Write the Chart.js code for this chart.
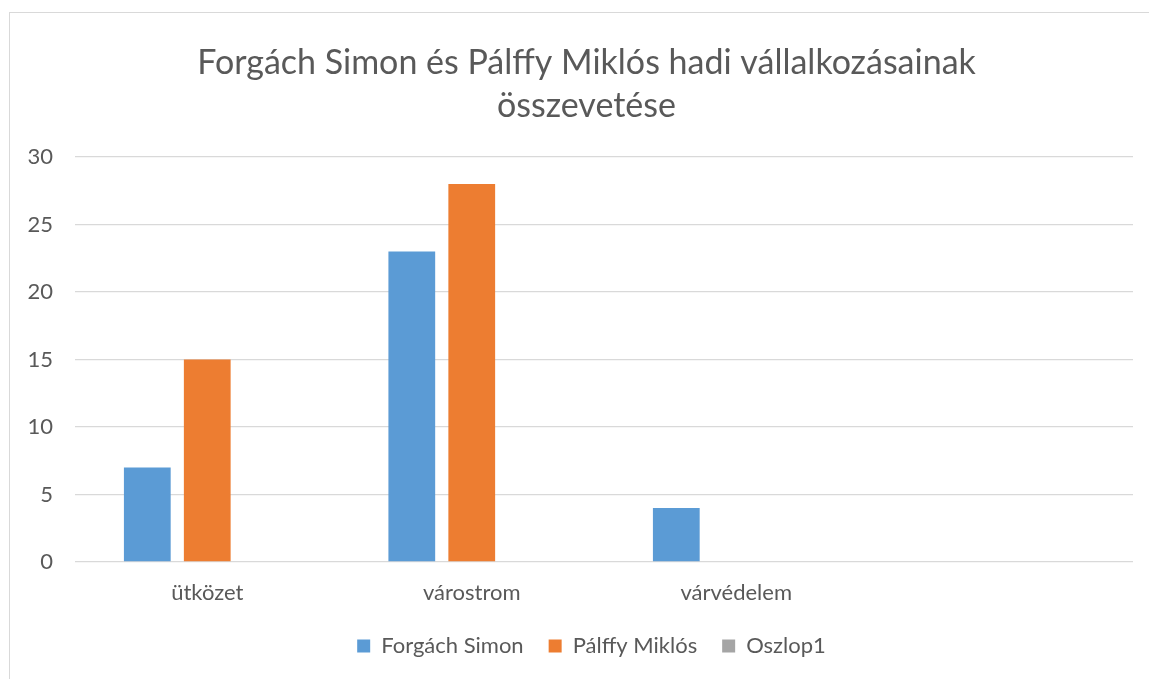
<!DOCTYPE html>
<html>
<head>
<meta charset="utf-8">
<script src="https://cdn.jsdelivr.net/npm/chart.js@4.4.0/dist/chart.umd.min.js"></script>
<style>
    html, body { margin: 0; padding: 0; background: #fff; overflow: hidden; }
    #wrap { position: relative; width: 1149px; height: 679px; }
    #frame { position: absolute; left: 9px; top: 12px; width: 1300px; height: 800px; border: 1px solid #d9d9d9; box-sizing: border-box; }
    canvas { position: absolute; left: 0; top: 0; }
</style>
</head>
<body>
<div id="wrap">
    <div id="frame"></div>
    <canvas id="chart" width="1149" height="679"></canvas>
</div>
<script>
// 데이터
const categories = ['ütközet', 'várostrom', 'várvédelem', ''];
const forgachSimon = [7, 23, 4, null];
const palffyMiklos = [15, 28, null, null];
const oszlop1 = [null, null, null, null];
const yTicks = [0, 5, 10, 15, 20, 25, 30];

const textColor = '#595959';
const gridColor = '#d9d9d9';
const fontFamily = 'Lato, "Open Sans", sans-serif';

// 범례 높이 고정 + 제목/범례 중심 위치 보정
const boxTweakPlugin = {
    id: 'boxTweak',
    afterInit(chart) {
        const legend = chart.legend;
        if (!legend) return;
        const origFit = legend.fit.bind(legend);
        legend.fit = function () {
            origFit();
            this.height = 55;
        };
    },
    afterLayout(chart) {
        if (chart.legend) chart.legend.left += 40;
        if (chart.titleBlock) chart.titleBlock.left += 30;
    }
};

const ctx = document.getElementById('chart').getContext('2d');
new Chart(ctx, {
    type: 'bar',
    data: {
        labels: categories,
        datasets: [
            { label: 'Forgách Simon', data: forgachSimon, backgroundColor: '#5b9bd5' },
            { label: 'Pálffy Miklós', data: palffyMiklos, backgroundColor: '#ed7d31' },
            { label: 'Oszlop1', data: oszlop1, backgroundColor: '#a5a5a5' }
        ]
    },
    options: {
        responsive: false,
        animation: false,
        categoryPercentage: 0.68,
        barPercentage: 0.78,
        layout: { padding: { left: 10, right: 16, top: 0, bottom: 14 } },
        plugins: {
            title: {
                display: true,
                text: ['Forgách Simon és Pálffy Miklós hadi vállalkozásainak', 'összevetése'],
                color: textColor,
                font: { family: fontFamily, size: 34, weight: 'normal', lineHeight: 1.265 },
                padding: { top: 42, bottom: 29 }
            },
            legend: {
                position: 'bottom',
                labels: {
                    color: textColor,
                    font: { family: fontFamily, size: 22 },
                    boxWidth: 13,
                    boxHeight: 13,
                    padding: 25
                }
            },
            tooltip: { enabled: false }
        },
        scales: {
            x: {
                grid: { display: false, drawTicks: false },
                border: { display: false },
                ticks: { color: textColor, font: { family: fontFamily, size: 22 }, padding: 18, maxRotation: 0 },
                afterFit(scale) { scale.height = 48; }
            },
            y: {
                min: 0,
                max: 30,
                afterBuildTicks(scale) { scale.ticks = yTicks.map(v => ({ value: v })); },
                grid: { color: gridColor, lineWidth: 1.3, drawTicks: false },
                border: { display: false },
                ticks: { color: textColor, font: { family: fontFamily, size: 22 }, padding: 22 },
                afterFit(scale) { scale.width = 65; }
            }
        }
    },
    plugins: [boxTweakPlugin]
});
</script>
</body>
</html>
